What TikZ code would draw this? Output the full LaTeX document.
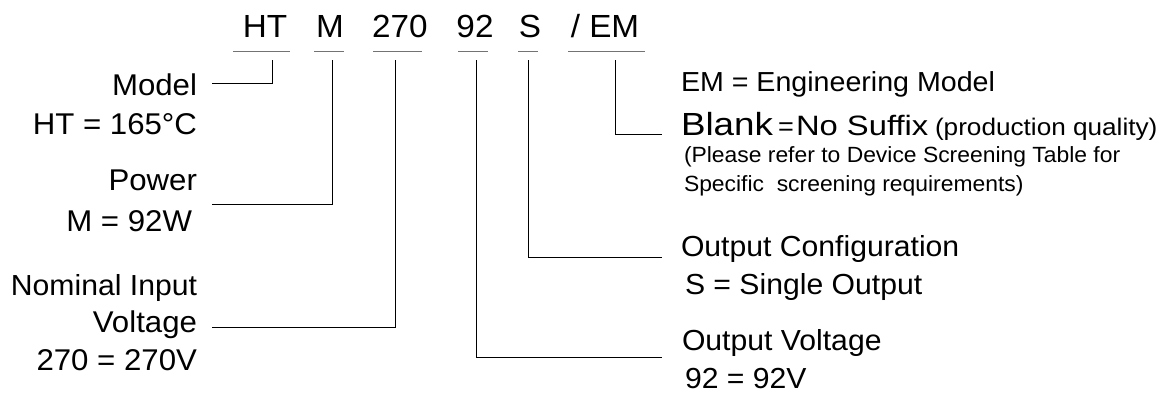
\documentclass[tikz,border=0pt]{standalone}
\usepackage{fontspec}
\setmainfont{Liberation Sans}[FakeStretch=1.04]
\newfontfamily\wideblank{Liberation Sans}[FakeStretch=1.15]
\newfontfamily\widesuf{Liberation Sans}[FakeStretch=1.17]
\newfontfamily\wideprod{Liberation Sans}[FakeStretch=1.09]
\newcommand\myfs[1]{\fontsize{#1}{#1}\selectfont}
\begin{document}
\begin{tikzpicture}[x=1pt,y=-1pt,
  every node/.style={inner sep=0pt,outer sep=0pt},
  code/.style={anchor=base,font={\myfs{32}}},
  lbl/.style={anchor=base east,font={\myfs{30}}},
  rlbl/.style={anchor=base west,font={\myfs{29}}},
  small/.style={anchor=base west,font={\myfs{22}}},
  conn/.style={line width=0.9pt,black},
  uline/.style={line width=1pt,black!55}]
\useasboundingbox (0,0) rectangle (1167,394);

% part-number codes
\node[code] (HT) at (265,37) {HT};
\node[code] (M)  at (330,37) {M};
\node[code] (C270) at (400,37) {270};
\node[code] (C92) at (475,37) {92};
\node[code] (S)  at (530,37) {S};
\node[code] (EM) at (605,37) {/ EM};

% underlines
\draw[uline] (233,51) -- (290,51);
\draw[uline] (314,51) -- (344,51);
\draw[uline] (373,51) -- (422,51);
\draw[uline] (458,51) -- (488,51);
\draw[uline] (518,51) -- (538,51);
\draw[uline] (568,51) -- (645,51);

% left labels
\node[lbl] (model) at (197,95) {Model};
\node[lbl] (ht) at (197,134) {HT = 165°C};
\node[lbl] (power) at (197,190) {Power};
\node[lbl] (mw) at (192,231) {M = 92W};
\node[lbl,font={\myfs{29}}] (nominal) at (197,295) {Nominal Input};
\node[lbl] (voltage) at (197,332) {Voltage};
\node[lbl] (v270) at (197,370) {270 = 270V};

% right labels
\node[rlbl,font={\myfs{27.5}}] (em) at (681,91) {EM = Engineering Model};
\node[anchor=base west,font={\wideblank\myfs{32}}] (blank) at (681,135) {Blank};
\node[anchor=base west,font={\myfs{26}}] (eq) at (778,135) {=};
\node[anchor=base west,font={\widesuf\myfs{28}}] (nosuf) at (796,135) {No Suffix};
\node[anchor=base west,font={\wideprod\myfs{24}}] (prod) at (935,135) {(production quality)};
\node[small] (please) at (684,162) {(Please refer to Device Screening Table for};
\node[small] (specific) at (684,191) {Specific\ \ screening requirements)};
\node[rlbl] (outconf) at (681,256) {Output Configuration};
\node[rlbl] (single) at (685,294) {S = Single Output};
\node[rlbl] (outvolt) at (682,350) {Output Voltage};
\node[rlbl] (v92) at (685,388) {92 = 92V};

% connector end points
\coordinate (tHT) at (272,60);
\coordinate (tM) at (332,60);
\coordinate (t270) at (395,60);
\coordinate (t92) at (476,60);
\coordinate (tS) at (528,60);
\coordinate (tEM) at (615,60);
\coordinate (eModel) at (212,83);
\coordinate (ePower) at (212,204);
\coordinate (eVolt) at (212,327);
\coordinate (eOutV) at (662,357);
\coordinate (eConf) at (662,257);
\coordinate (eBlank) at (662,134);

\draw[conn] (tHT) |- (eModel);
\draw[conn] (tM) |- (ePower);
\draw[conn] (t270) |- (eVolt);
\draw[conn] (t92) |- (eOutV);
\draw[conn] (tS) |- (eConf);
\draw[conn] (tEM) |- (eBlank);
\end{tikzpicture}
\end{document}
